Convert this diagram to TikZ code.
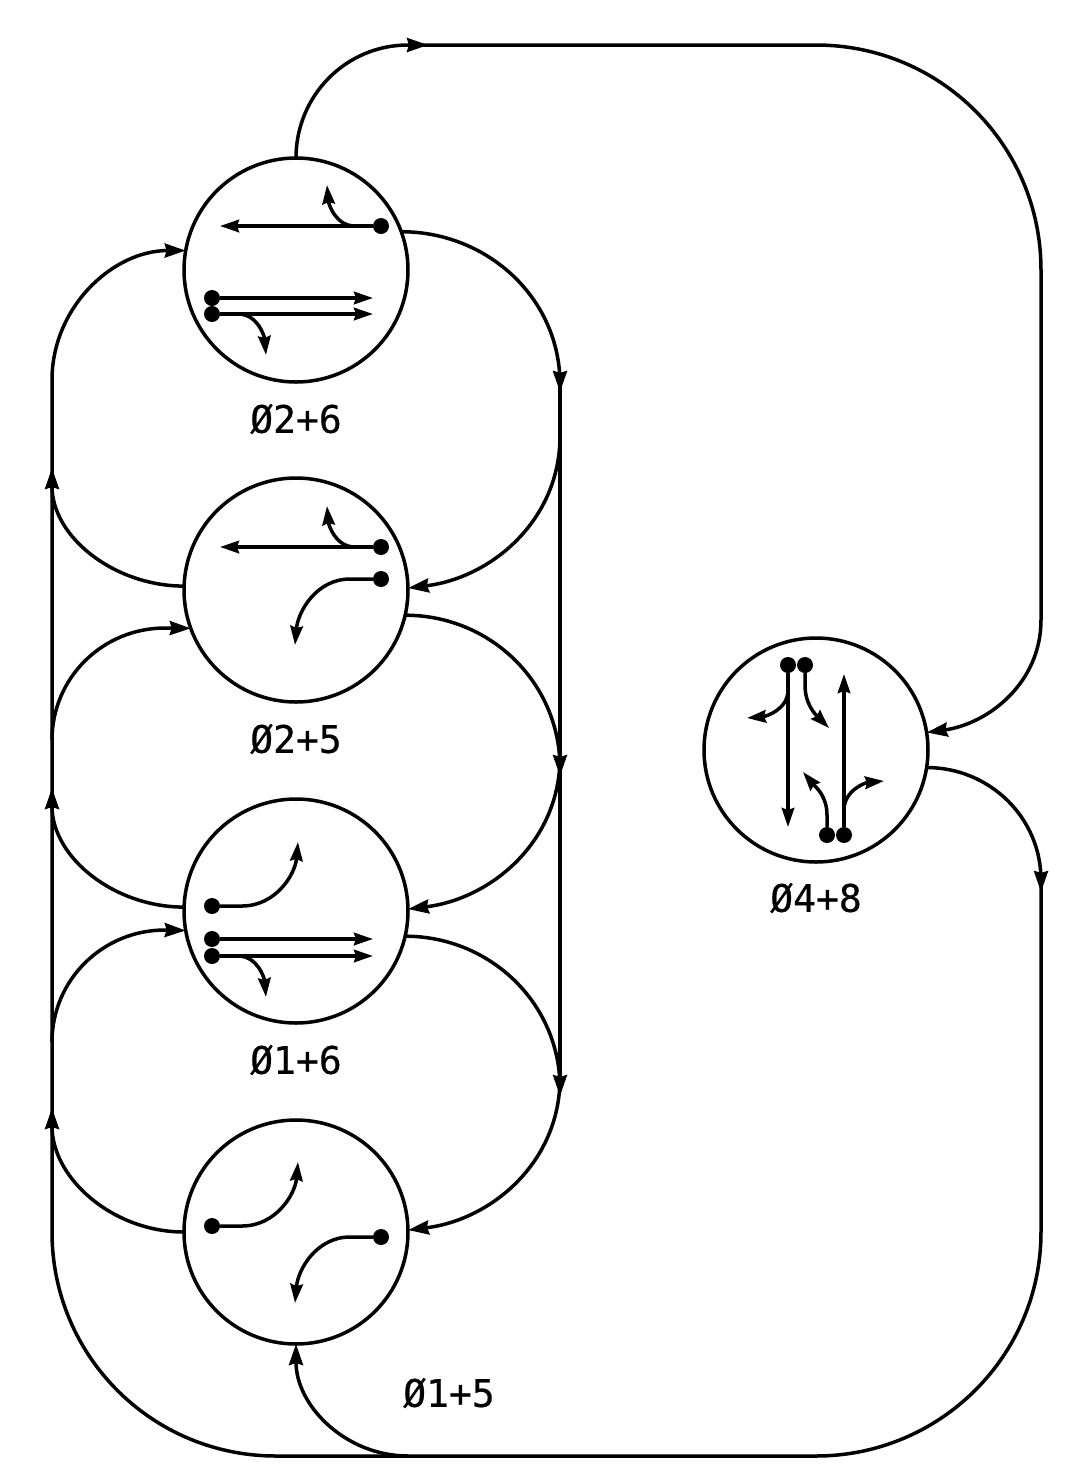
\documentclass[tikz,border=0pt]{standalone}
\usepackage{fontspec}
\setmainfont{DejaVu Sans Mono}
\newfontfamily\labfont[FakeBold=0.6]{DejaVu Sans Mono}
\usetikzlibrary{arrows.meta}
\tikzset{
  phase/.style={circle,draw,minimum size=112pt,inner sep=0pt,outer sep=0pt},
  sig/.style={circle,fill=black,minimum size=8pt,inner sep=0pt,outer sep=0pt},
  lab/.style={inner sep=0pt,font=\labfont\fontsize{19pt}{19pt}\selectfont},
  big/.style={-{Stealth[length=10.5pt,width=7pt,inset=1pt]}},
  small/.style={-{Stealth[length=9.5pt,width=6.25pt,inset=1pt]}},
}
\begin{document}
\begin{tikzpicture}[x=0.5pt,y=-0.5pt,line width=1.75pt]
\useasboundingbox (0,0) rectangle (1079,1480);
% phase circles
\node[phase] (p26) at (296,270) {};
\node[phase] (p25) at (296,590) {};
\node[phase] (p16) at (296,911) {};
\node[phase] (p15) at (296,1232) {};
\node[phase] (p48) at (816,750) {};
% labels
\node[lab] (l26) at (296,419) {Ø2+6};
\node[lab] (l25) at (296,739) {Ø2+5};
\node[lab] (l16) at (296,1060) {Ø1+6};
\node[lab] (l48) at (816,898) {Ø4+8};
\node[lab] (l15) at (449,1393) {Ø1+5};
% ring coordinates
\coordinate (ta) at (408,45);
\coordinate (tb) at (428,45);
\coordinate (tc) at (816,45);
\coordinate (td) at (1041,270);
\coordinate (te) at (1041,620);
\coordinate (ra) at (1041,880);
\coordinate (rb) at (1041,892);
\coordinate (rc) at (1041,1232);
\coordinate (ba) at (816,1456);
\coordinate (bb) at (276,1456);
\coordinate (bc) at (408,1456);
\coordinate (la) at (52,1232);
\coordinate (lb) at (52,380);
% right bus
\coordinate (r1) at (560,384);
\coordinate (r1t) at (560,392);
\coordinate (r2) at (560,436);
\coordinate (r3) at (560,768);
\coordinate (r3t) at (560,776);
\coordinate (r4) at (560,757);
\coordinate (r5) at (560,1088);
\coordinate (r5t) at (560,1096);
\coordinate (r6) at (560,1078);
% left bus
\coordinate (l1) at (52,468);
\coordinate (l2) at (52,788);
\coordinate (l3) at (52,1108);
\coordinate (l4) at (52,740);
\coordinate (l5) at (52,1042);
\coordinate (a4) at (165,628);
\coordinate (a5) at (165,930);
% outer loop
\draw[big] (p26.north) to[out=90,in=180] (ta) -- (tb);
\draw[big] (ta) -- (tc) to[out=0,in=90] (td) -- (te) to[out=-90,in=8] (p48.9);
\draw[big] (p48.-9) to[out=0,in=90] (ra) -- (rb);
\draw (ra) -- (rc) to[out=-90,in=0] (ba) -- (bb) to[out=180,in=-90] (la) -- (lb);
\draw[big] (bc) to[out=180,in=-90] (p15.south);
% right side
\draw (r1) -- (r5);
\draw[big] (p26.20) to[out=0,in=90] (r1) -- (r1t);
\draw[big] (r2) to[out=-90,in=7] (p25.1);
\draw[big] (p25.-13) to[out=0,in=90] (r3) -- (r3t);
\draw[big] (r4) to[out=-90,in=7] (p16.1);
\draw[big] (p16.-13) to[out=0,in=90] (r5) -- (r5t);
\draw[big] (r6) to[out=-90,in=7] (p15.1);
% left side
\draw[big] (lb) to[out=90,in=180] (p26.170);
\draw[big] (p25.178) to[out=180,in=-90] (l1);
\draw[big] (l4) to[out=90,in=180] (a4) -- (p25.200);
\draw[big] (p16.178) to[out=180,in=-90] (l2);
\draw[big] (l5) to[out=90,in=180] (a5) -- (p16.190);
\draw[big] (p15.180) to[out=180,in=-90] (l3);
% phase 2+6 movements
\node[sig] (s1) at (381,226) {};
\node[sig] (s2) at (212,298) {};
\node[sig] (s3) at (212,314) {};
\coordinate (s1a) at (220,226);
\coordinate (s1b) at (355,226);
\coordinate (s1c) at (327,185);
\coordinate (s2a) at (373,298);
\coordinate (s3a) at (373,314);
\coordinate (s3b) at (238,314);
\coordinate (s3c) at (266,355);
\draw[small] (s1) -- (s1a);
\draw[small] (s1) -- (s1b) to[out=180,in=-85] (s1c);
\draw[small] (s2) -- (s2a);
\draw[small] (s3) -- (s3a);
\draw[small] (s3) -- (s3b) to[out=0,in=95] (s3c);
% phase 2+5 movements
\node[sig] (t1) at (381,547) {};
\node[sig] (t2) at (381,579) {};
\coordinate (t1a) at (220,547);
\coordinate (t1b) at (355,547);
\coordinate (t1c) at (327,506);
\coordinate (t2b) at (350,579);
\coordinate (t2c) at (295,645);
\draw[small] (t1) -- (t1a);
\draw[small] (t1) -- (t1b) to[out=180,in=-85] (t1c);
\draw[small] (t2) -- (t2b) to[out=180,in=85] (t2c);
% phase 1+6 movements
\node[sig] (u1) at (212,906) {};
\node[sig] (u2) at (212,939) {};
\node[sig] (u3) at (212,956) {};
\coordinate (u1b) at (242,906);
\coordinate (u1c) at (298,842);
\coordinate (u2a) at (373,939);
\coordinate (u3a) at (373,956);
\coordinate (u3b) at (238,956);
\coordinate (u3c) at (266,997);
\draw[small] (u1) -- (u1b) to[out=0,in=-95] (u1c);
\draw[small] (u2) -- (u2a);
\draw[small] (u3) -- (u3a);
\draw[small] (u3) -- (u3b) to[out=0,in=95] (u3c);
% phase 1+5 movements
\node[sig] (v1) at (212,1226) {};
\node[sig] (v2) at (381,1237) {};
\coordinate (v1b) at (242,1226);
\coordinate (v1c) at (298,1162);
\coordinate (v2b) at (350,1237);
\coordinate (v2c) at (295,1303);
\draw[small] (v1) -- (v1b) to[out=0,in=-95] (v1c);
\draw[small] (v2) -- (v2b) to[out=180,in=85] (v2c);
% phase 4+8 movements
\node[sig] (w1) at (788,665) {};
\node[sig] (w2) at (805,665) {};
\node[sig] (w3) at (827,835) {};
\node[sig] (w4) at (844,835) {};
\coordinate (w1a) at (788,827);
\coordinate (w1b) at (788,690);
\coordinate (w1c) at (747,718);
\coordinate (w2b) at (805,685);
\coordinate (w2c) at (829,728);
\coordinate (w3b) at (827,815);
\coordinate (w3c) at (803,772);
\coordinate (w4a) at (844,674);
\coordinate (w4b) at (844,810);
\coordinate (w4c) at (884,781);
\draw[small] (w1) -- (w1a);
\draw[small] (w1b) to[out=-90,in=5] (w1c);
\draw[small] (w2) -- (w2b) to[out=-90,in=135] (w2c);
\draw[small] (w3) -- (w3b) to[out=90,in=-50] (w3c);
\draw[small] (w4) -- (w4a);
\draw[small] (w4b) to[out=90,in=185] (w4c);
\end{tikzpicture}
\end{document}
